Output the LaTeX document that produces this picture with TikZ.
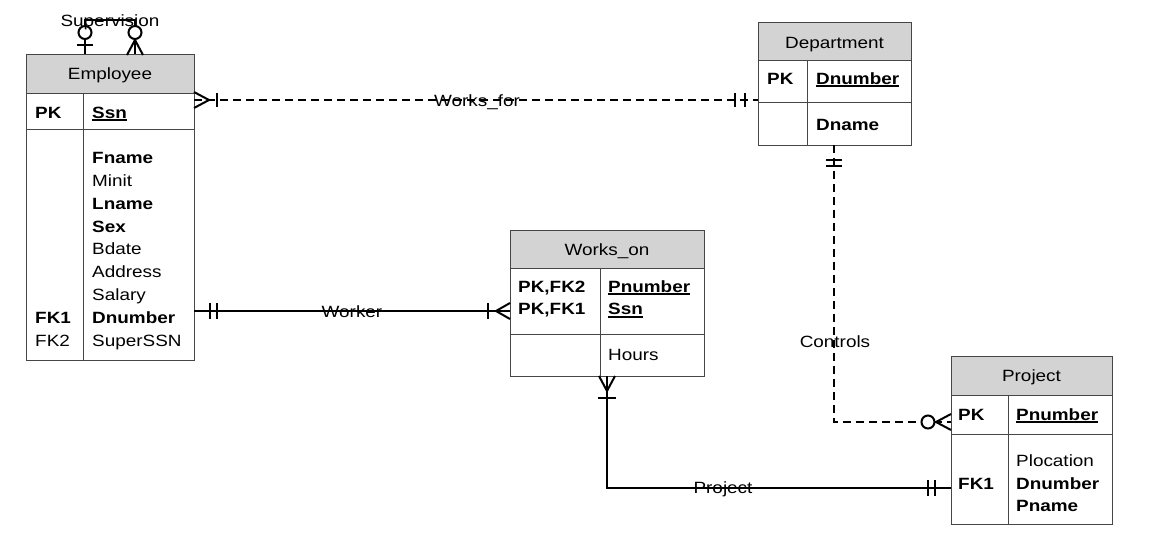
\documentclass[tikz,border=0pt]{standalone}
\usepackage{fontspec}
\setmainfont{Liberation Sans}[FakeStretch=1.16]
\definecolor{hdrgray}{RGB}{211,211,211}
\definecolor{bordergray}{RGB}{70,70,70}
\newcommand\myul[1]{\setbox0\hbox{#1}\rlap{\rule[-3pt]{\wd0}{1.6pt}}\box0}
\begin{document}
\begin{tikzpicture}[x=1pt,y=-1pt,
  tbl/.style={draw=bordergray, line width=1pt},
  hdr/.style={tbl, fill=hdrgray},
  txt/.style={anchor=base west, inner sep=0pt, font=\fontsize{16.3}{20}\selectfont},
  ttl/.style={anchor=base, inner sep=0pt, font=\fontsize{16.3}{20}\selectfont},
  lbl/.style={anchor=base, inner sep=0pt, font=\fontsize{16.3}{20}\selectfont},
  conn/.style={draw=black, line width=2pt},
  dconn/.style={conn, dash pattern=on 8pt off 5pt},
  tick/.style={draw=black, line width=2pt},
  ring/.style={draw=black, line width=2pt, fill=white}]
\useasboundingbox (0,0) rectangle (1163,550);
\fill[white] (0,0) rectangle (1163,550);

% ---------- Employee ----------
\draw[hdr] (26,54) rectangle (194,93);
\draw[tbl] (26,93) rectangle (194,129);
\draw[tbl] (26,129) rectangle (194,360);
\draw[tbl] (83,93) -- (83,360);
\node[ttl] (empT) at (110,79) {Employee};
\node[txt] (empPK) at (35,118) {\bfseries PK};
\node[txt] (empSsn) at (92,118) {\bfseries\myul{Ssn}};
\node[txt] (emp1) at (92,163.3) {\bfseries Fname};
\node[txt] (emp2) at (92,186.2) {Minit};
\node[txt] (emp3) at (92,209.1) {\bfseries Lname};
\node[txt] (emp4) at (92,232.0) {\bfseries Sex};
\node[txt] (emp5) at (92,254.9) {Bdate};
\node[txt] (emp6) at (92,277.8) {Address};
\node[txt] (emp7) at (92,300.7) {Salary};
\node[txt] (emp8) at (92,323.6) {\bfseries Dnumber};
\node[txt] (emp9) at (92,346.5) {SuperSSN};
\node[txt] (empFK1) at (35,323.6) {\bfseries FK1};
\node[txt] (empFK2) at (35,346.5) {FK2};

% ---------- Department ----------
\draw[hdr] (758,22) rectangle (911,60);
\draw[tbl] (758,60) rectangle (911,102);
\draw[tbl] (758,102) rectangle (911,145);
\draw[tbl] (807,60) -- (807,145);
\node[ttl] (depT) at (834.5,48) {Department};
\node[txt] (depPK) at (767,84) {\bfseries PK};
\node[txt] (depDn) at (816,84) {\bfseries\myul{Dnumber}};
\node[txt] (depDname) at (816,130) {\bfseries Dname};

% ---------- Works_on ----------
\draw[hdr] (510,230) rectangle (704,268);
\draw[tbl] (510,268) rectangle (704,334);
\draw[tbl] (510,334) rectangle (704,376);
\draw[tbl] (600,268) -- (600,376);
\node[ttl] (woT) at (607,255) {Works\_on};
\node[txt] (woK1) at (518,292) {\bfseries PK,FK2};
\node[txt] (woK2) at (518,314.6) {\bfseries PK,FK1};
\node[txt] (woPn) at (608,292) {\bfseries\myul{Pnumber}};
\node[txt] (woSsn) at (608,314.6) {\bfseries\myul{Ssn}};
\node[txt] (woH) at (608,360) {Hours};

% ---------- Project ----------
\draw[hdr] (951,356) rectangle (1112,395);
\draw[tbl] (951,395) rectangle (1112,434);
\draw[tbl] (951,434) rectangle (1112,524);
\draw[tbl] (1008,395) -- (1008,524);
\node[ttl] (prjT) at (1031.5,381) {Project};
\node[txt] (prjPK) at (958,420) {\bfseries PK};
\node[txt] (prjPn) at (1016,420) {\bfseries\myul{Pnumber}};
\node[txt] (prj1) at (1016,466.2) {Plocation};
\node[txt] (prj2) at (1016,489.0) {\bfseries Dnumber};
\node[txt] (prj3) at (1016,511.8) {\bfseries Pname};
\node[txt] (prjFK1) at (958,489.0) {\bfseries FK1};

% ---------- connector end points ----------
\coordinate (supA) at (85,54);
\coordinate (supB) at (135,54);
\coordinate (wfA) at (194,100);
\coordinate (wfB) at (758,100);
\coordinate (wkA) at (194,311);
\coordinate (wkB) at (510,311);
\coordinate (ctA) at (834,145);
\coordinate (ctB) at (951,422);
\coordinate (pjA) at (607,376);
\coordinate (pjB) at (951,488);

% Supervision (self relationship)
\draw[conn] (supA) -- (85,20) -- (135,20) -- (supB);
\draw[tick] (77,45) -- (93,45);
\draw[ring] (85,32.5) circle (6.5);
\draw[tick] (127,55) -- (135,40) -- (143,55);
\draw[ring] (135,32.5) circle (6.5);
\node[lbl] (supL) at (110,26) {Supervision};

% Works_for
\draw[dconn] (wfA) -- (wfB);
\draw[tick] (194,92) -- (209,100) -- (194,108);
\draw[tick] (217,93) -- (217,107);
\draw[tick] (735,93) -- (735,107);
\draw[tick] (745,93) -- (745,107);
\node[lbl] (wfL) at (477,106) {Works\_for};

% Worker
\draw[conn] (wkA) -- (wkB);
\draw[tick] (210,303) -- (210,319);
\draw[tick] (217,303) -- (217,319);
\draw[tick] (488,303) -- (488,319);
\draw[tick] (510,303) -- (496,311) -- (510,319);
\node[lbl] (wkL) at (352,317) {Worker};

% Controls
\draw[dconn] (ctA) -- (834,422) -- (ctB);
\draw[tick] (826,160) -- (842,160);
\draw[tick] (826,166) -- (842,166);
\draw[tick] (951,414) -- (936,422) -- (951,430);
\draw[ring] (928,422) circle (6.5);
\node[lbl] (ctL) at (835,347) {Controls};

% Project
\draw[conn] (pjA) -- (607,488) -- (pjB);
\draw[tick] (599,376) -- (607,391) -- (615,376);
\draw[tick] (598,398) -- (616,398);
\draw[tick] (928,480) -- (928,496);
\draw[tick] (935,480) -- (935,496);
\node[lbl] (pjL) at (723,493) {Project};
\end{tikzpicture}
\end{document}
